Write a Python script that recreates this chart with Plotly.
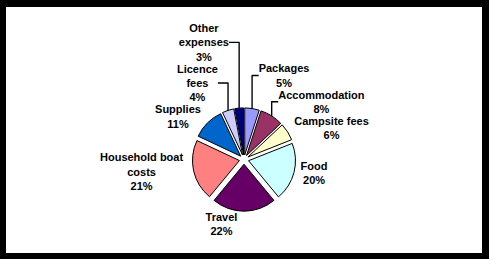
import plotly.graph_objects as go

categories = ["Packages", "Accommodation", "Campsite fees", "Food", "Travel",
              "Household boat costs", "Supplies", "Licence fees", "Other expenses"]
label_text = ["Packages", "Accommodation", "Campsite fees", "Food", "Travel",
              "Household boat<br>costs", "Supplies", "Licence<br>fees", "Other<br>expenses"]
values = [5, 8, 6, 20, 22, 21, 11, 4, 3]
colors = ["#9999FF", "#993366", "#FFFFCC", "#CCFFFF", "#660066",
          "#FF8080", "#0066CC", "#CCCCFF", "#000080"]

fig = go.Figure(go.Pie(
    labels=categories,
    values=values,
    text=label_text,
    sort=False,
    direction="clockwise",
    rotation=0,
    pull=[0.1] * len(values),
    marker=dict(colors=colors, line=dict(color="black", width=1)),
    texttemplate="%{text}<br>%{percent:.0%}",
    textposition="outside",
    textfont=dict(family="Liberation Sans, Arial", size=11, color="black", weight="bold"),
    showlegend=False,
    domain=dict(x=[0.1, 0.9], y=[0.17, 0.59]),
))

fig.update_layout(
    width=489, height=259,
    margin=dict(l=6, r=7, t=7, b=6, autoexpand=False),
    paper_bgcolor="black",
    shapes=[dict(type="rect", xref="paper", yref="paper", x0=0, x1=1, y0=0, y1=1,
                 fillcolor="white", line=dict(width=0), layer="below")],
)

fig.write_html("out.html")
